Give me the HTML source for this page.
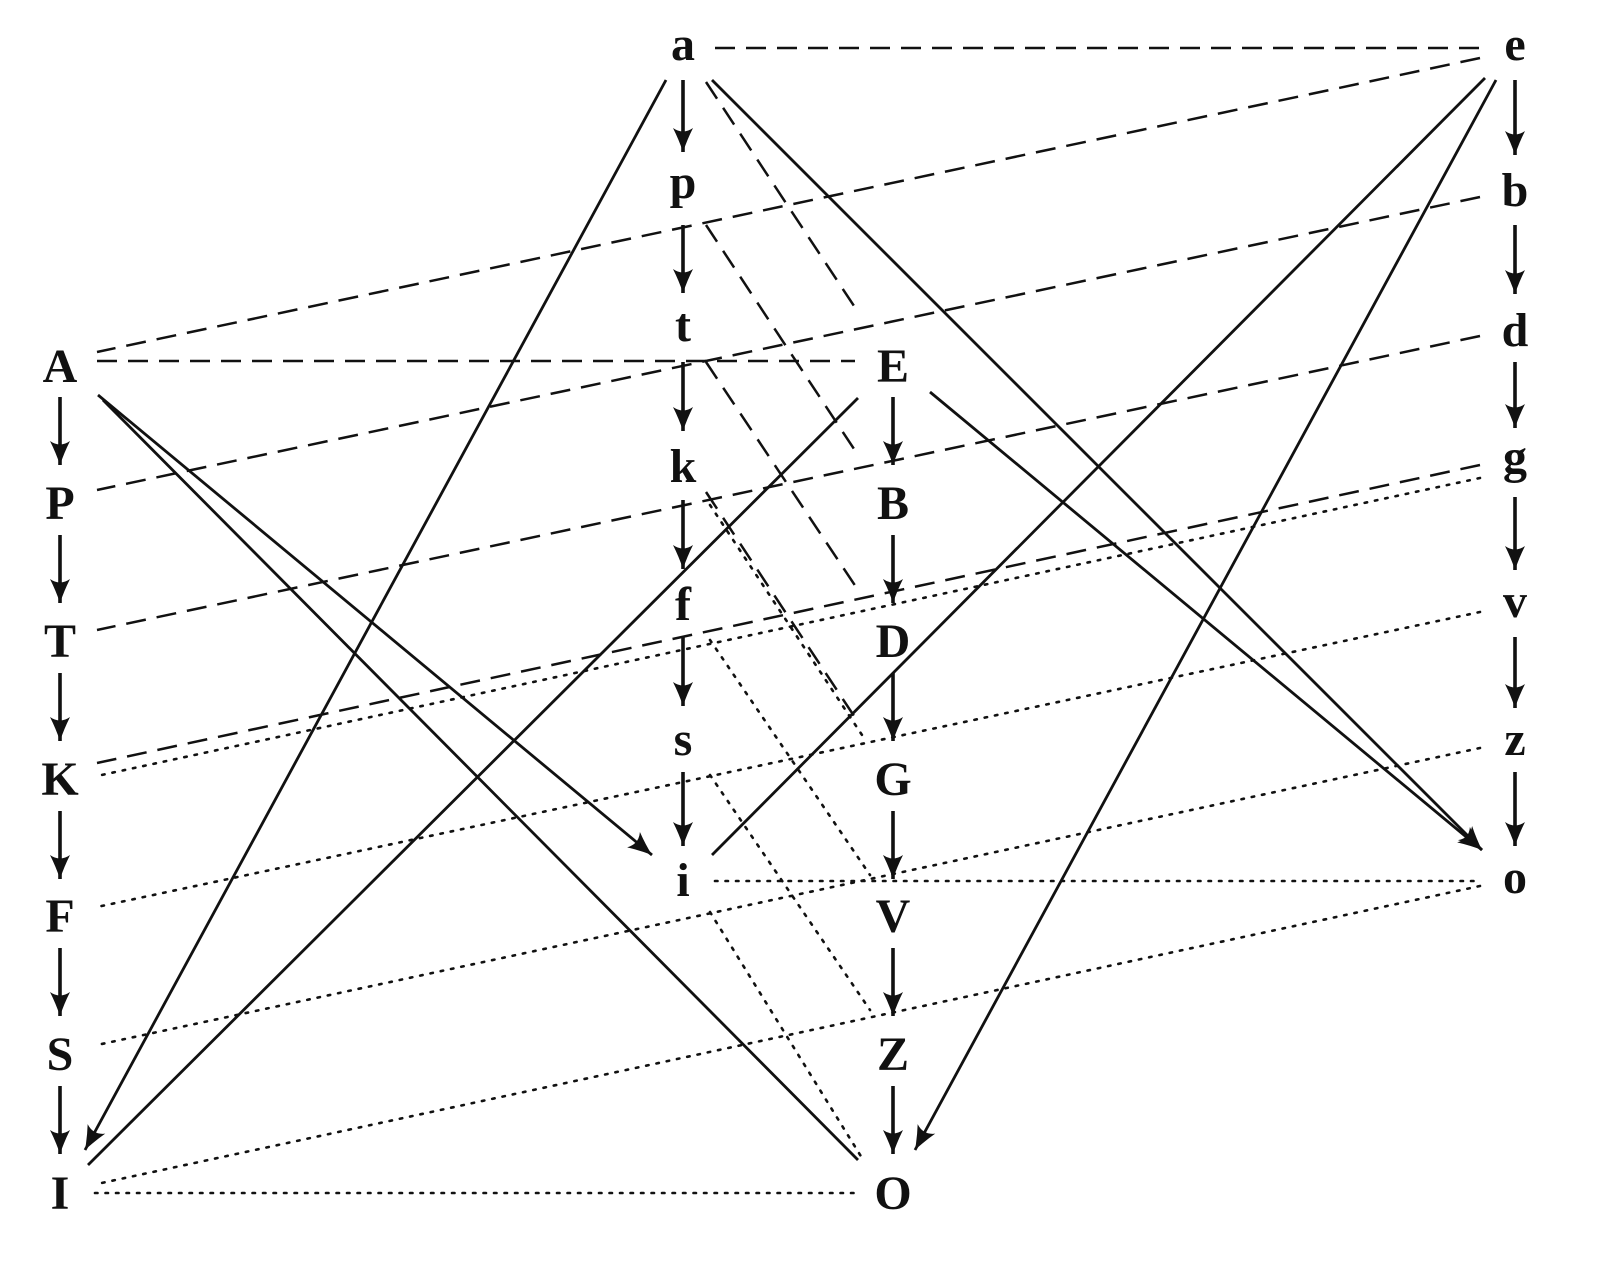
<!DOCTYPE html>
<html><head><meta charset="utf-8"><style>
html,body{margin:0;padding:0;background:#fff;}
svg{display:block;}
text{font-family:"Liberation Serif",serif;font-weight:bold;font-size:48px;fill:#111;text-anchor:middle;}
</style></head><body>
<svg width="1600" height="1271" viewBox="0 0 1600 1271" xmlns="http://www.w3.org/2000/svg">
<defs>
<marker id="ah" markerWidth="34" markerHeight="24" refX="24" refY="12" orient="auto" markerUnits="userSpaceOnUse">
<path d="M0,2 Q12,8 24,12 Q12,16 0,22 Q7,12 0,2 Z" fill="#111"/>
</marker>
</defs>
<g stroke="#111" stroke-width="2.8" fill="none">
<g marker-end="url(#ah)" stroke-width="3.6">
<line x1="60" y1="397" x2="60" y2="465"/><line x1="60" y1="535" x2="60" y2="603"/><line x1="60" y1="673" x2="60" y2="741"/><line x1="60" y1="811" x2="60" y2="879"/><line x1="60" y1="948" x2="60" y2="1016"/><line x1="60" y1="1086" x2="60" y2="1154"/>
<line x1="683" y1="80" x2="683" y2="152"/><line x1="683" y1="225" x2="683" y2="293"/><line x1="683" y1="362" x2="683" y2="431"/><line x1="683" y1="500" x2="683" y2="569"/><line x1="683" y1="637" x2="683" y2="706"/><line x1="683" y1="772" x2="683" y2="846"/>
<line x1="893" y1="397" x2="893" y2="465"/><line x1="893" y1="535" x2="893" y2="603"/><line x1="893" y1="673" x2="893" y2="741"/><line x1="893" y1="811" x2="893" y2="879"/><line x1="893" y1="948" x2="893" y2="1016"/><line x1="893" y1="1086" x2="893" y2="1154"/>
<line x1="1515" y1="80" x2="1515" y2="155"/><line x1="1515" y1="225" x2="1515" y2="294"/><line x1="1515" y1="362" x2="1515" y2="428"/><line x1="1515" y1="497" x2="1515" y2="570"/><line x1="1515" y1="637" x2="1515" y2="708"/><line x1="1515" y1="772" x2="1515" y2="846"/>
</g>
<g stroke-dasharray="20,11" stroke-width="2.5">
<line x1="715" y1="48" x2="1480" y2="48"/>
<line x1="1480" y1="58" x2="97" y2="352"/>
<line x1="1480" y1="197" x2="97" y2="490"/>
<line x1="1480" y1="336" x2="97" y2="630"/>
<line x1="1480" y1="465" x2="97" y2="763"/>
<line x1="97" y1="361" x2="855" y2="361"/>
<line x1="706" y1="82" x2="858" y2="312"/>
<line x1="706" y1="225" x2="858" y2="455"/>
<line x1="706" y1="362" x2="858" y2="590"/>
<line x1="706" y1="492" x2="858" y2="722"/>
</g>
<g stroke-dasharray="2.5,8" stroke-width="2.6" stroke-linecap="round">
<line x1="1480" y1="478" x2="97" y2="776"/>
<line x1="1480" y1="612" x2="97" y2="907"/>
<line x1="1480" y1="748" x2="97" y2="1045"/>
<line x1="1480" y1="886" x2="97" y2="1184"/>
<line x1="95" y1="1193" x2="855" y2="1193"/>
<line x1="715" y1="881" x2="1480" y2="881"/>
<line x1="710" y1="505" x2="862" y2="735"/>
<line x1="710" y1="640" x2="870" y2="875"/>
<line x1="710" y1="775" x2="870" y2="1010"/>
<line x1="710" y1="912" x2="862" y2="1158"/>
</g>
<line x1="666" y1="80" x2="85" y2="1150" marker-end="url(#ah)"/>
<line x1="712" y1="80" x2="1482" y2="850" marker-end="url(#ah)"/>
<line x1="1485" y1="78" x2="712" y2="855"/>
<line x1="1496" y1="80" x2="915" y2="1150" marker-end="url(#ah)"/>
<line x1="858" y1="398" x2="88" y2="1165"/>
<line x1="930" y1="392" x2="1482" y2="850" marker-end="url(#ah)"/>
<line x1="98" y1="395" x2="652" y2="855" marker-end="url(#ah)"/>
<line x1="103" y1="400" x2="858" y2="1160"/>
</g>
<g>
<text x="60" y="382">A</text><text x="60" y="519">P</text><text x="60" y="657">T</text><text x="60" y="795">K</text><text x="60" y="932">F</text><text x="60" y="1070">S</text><text x="60" y="1209">I</text>
<text x="683" y="60">a</text><text x="683" y="198">p</text><text x="683" y="341">t</text><text x="683" y="482">k</text><text x="683" y="620">f</text><text x="683" y="755">s</text><text x="683" y="896">i</text>
<text x="893" y="382">E</text><text x="893" y="519">B</text><text x="893" y="657">D</text><text x="893" y="795">G</text><text x="893" y="932">V</text><text x="893" y="1070">Z</text><text x="893" y="1209">O</text>
<text x="1515" y="60">e</text><text x="1515" y="206">b</text><text x="1515" y="346">d</text><text x="1515" y="473">g</text><text x="1515" y="617">v</text><text x="1515" y="755">z</text><text x="1515" y="893">o</text>
</g>
</svg>
</body></html>
